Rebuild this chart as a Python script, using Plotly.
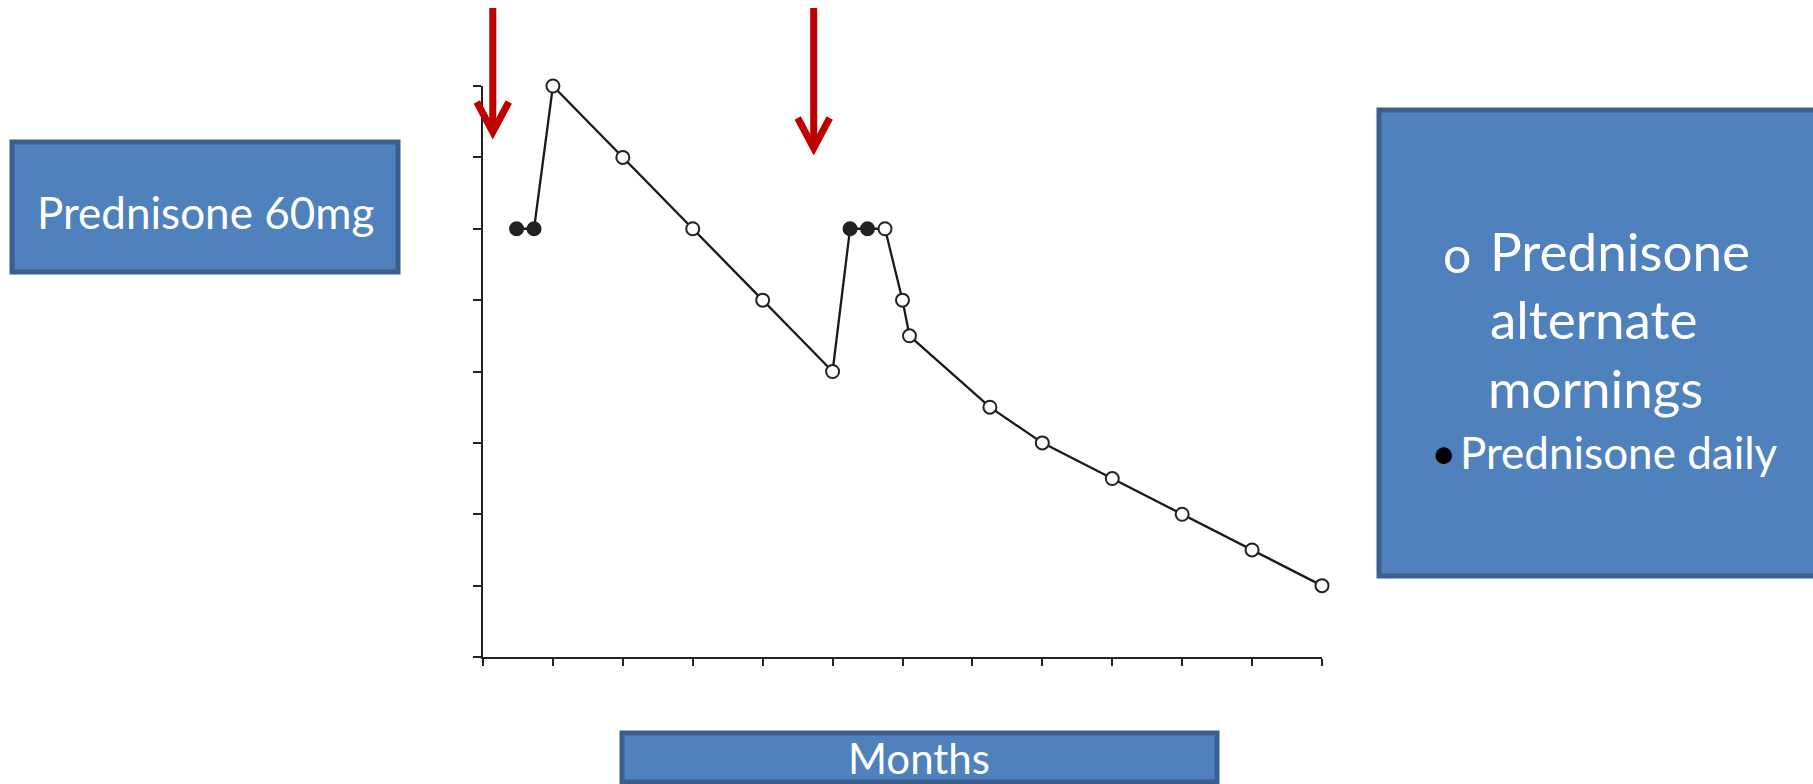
import plotly.graph_objects as go

# ---- data (axis units: months on x, dose scale ticks on y) ----
months = [0.48, 0.73, 1.0, 2.0, 3.0, 4.0, 5.0, 5.25, 5.5, 5.75, 6.0, 6.1, 7.25, 8.0, 9.0, 10.0, 11.0, 12.0]
dose = [6, 6, 8, 7, 6, 5, 4, 6, 6, 6, 5, 4.5, 3.5, 3.0, 2.5, 2.0, 1.5, 1.0]
daily = [True, True, False, False, False, False, False, True, True, False, False, False, False, False, False, False, False, False]
x_ticks = list(range(0, 13))
y_ticks = list(range(0, 9))
arrow_months = [0.14, 4.73]

W, H = 1813, 784
L, R, T, B = 483, 491, 86, 127
PW, PH = W - L - R, H - T - B


def px(x):
    return (x - L) / PW


def py(y):
    return (H - B - y) / PH


BLUE = "#4F81BD"
EDGE = "#3B5F8C"
FONT = "Lato, 'Open Sans', sans-serif"

fig = go.Figure()
fig.add_trace(go.Scatter(
    x=months, y=dose, mode="lines+markers", cliponaxis=False,
    line=dict(color="#1a1a1a", width=2.3),
    marker=dict(size=13, symbol="circle",
                color=["#222222" if d else "white" for d in daily],
                line=dict(color="#222222", width=2)),
    showlegend=False, hoverinfo="skip"))

shapes = []
annotations = []


def box(x0, y0, x1, y1):
    shapes.append(dict(type="rect", xref="paper", yref="paper",
                       x0=px(x0), x1=px(x1), y0=py(y1), y1=py(y0),
                       fillcolor=BLUE, line=dict(color=EDGE, width=5), layer="above"))


def text(t, x, y, size, xanchor="center"):
    annotations.append(dict(text=t, xref="paper", yref="paper", x=px(x), y=py(y),
                            xanchor=xanchor, yanchor="middle", showarrow=False,
                            font=dict(family=FONT, size=size, color="white")))


box(12, 142, 398, 272)
text("Prednisone 60mg", 205, 212, 44)

box(1379, 110, 1840, 576)
text("o", 1441, 254, 50, "left")
text("Prednisone", 1488, 250, 53, "left")
text("alternate", 1488, 318, 53, "left")
text("mornings", 1486, 388, 53, "left")
text("<span style='color:black'>•</span>", 1429, 452, 44, "left")
text("Prednisone daily", 1458, 452, 44, "left")

box(622, 733, 1217, 782)
text("Months", 919, 758, 42)

# red arrows
unit = PW / 12
tips = [135, 151]
for m, tip in zip(arrow_months, tips):
    xa = L + m * unit
    shapes.append(dict(type="line", xref="paper", yref="paper",
                       x0=px(xa), x1=px(xa), y0=py(8), y1=py(tip - 5),
                       line=dict(color="#C00000", width=7)))
    path = f"M {px(xa-16)},{py(tip-33)} L {px(xa)},{py(tip-3)} L {px(xa+16)},{py(tip-33)}"
    shapes.append(dict(type="path", xref="paper", yref="paper", path=path,
                       line=dict(color="#C00000", width=7)))

fig.update_layout(
    width=W, height=H, margin=dict(l=L, r=R, t=T, b=B),
    paper_bgcolor="white", plot_bgcolor="white",
    shapes=shapes, annotations=annotations,
    xaxis=dict(range=[0, 12], tickvals=x_ticks, showticklabels=False, ticks="outside",
               ticklen=7, tickwidth=2, tickcolor="#222", showline=True, linecolor="#222",
               linewidth=2, showgrid=False, zeroline=False, fixedrange=True),
    yaxis=dict(range=[0, 8], tickvals=y_ticks, showticklabels=False, ticks="outside",
               ticklen=8, tickwidth=2, tickcolor="#222", showline=True, linecolor="#222",
               linewidth=2, showgrid=False, zeroline=False, fixedrange=True),
)

fig.write_html("out.html", config={"displayModeBar": False},
               post_script="document.body.style.margin='0';document.body.style.overflow='hidden';")
